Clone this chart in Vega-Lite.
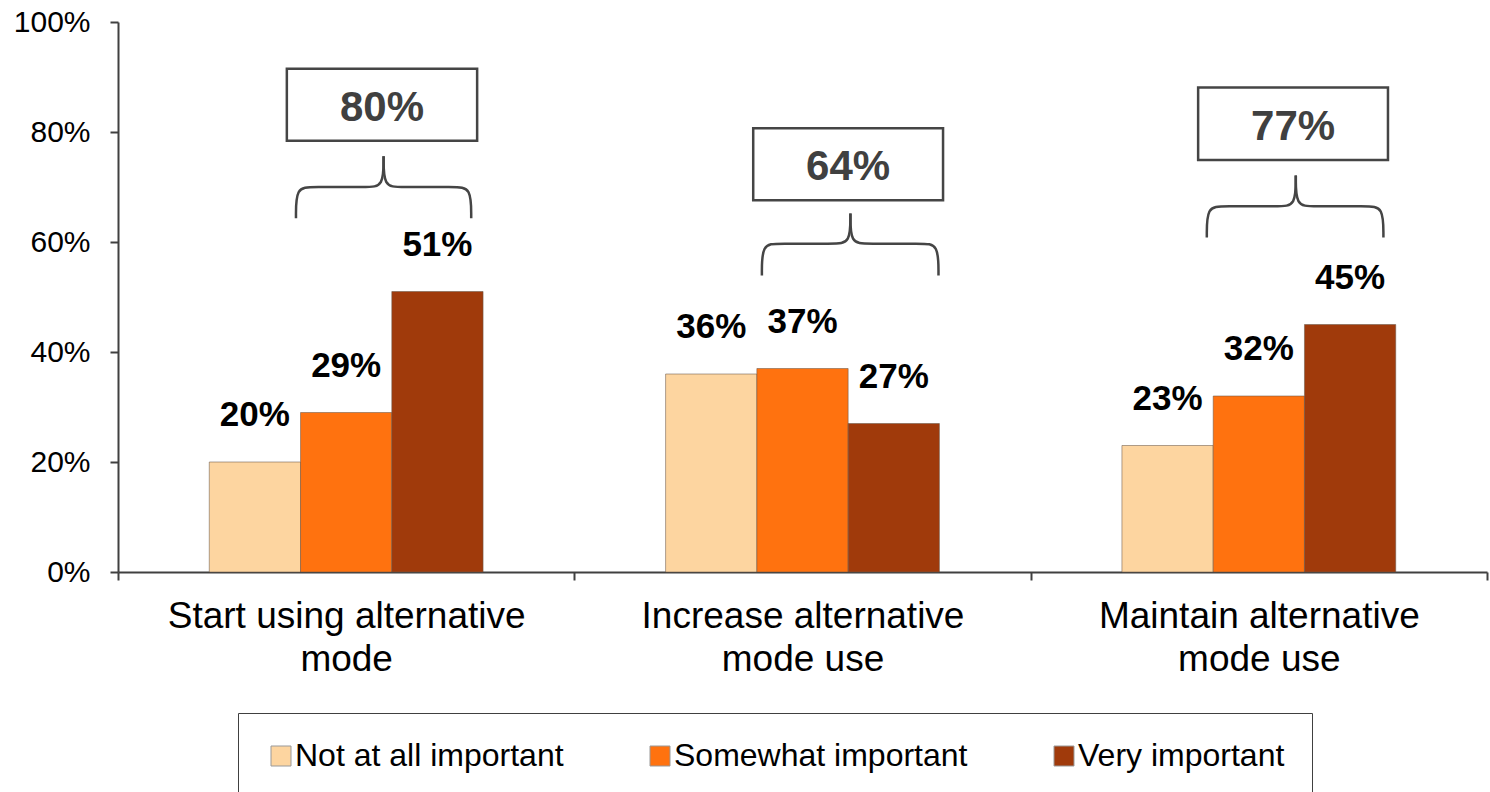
{
  "$schema": "https://vega.github.io/schema/vega-lite/v6.json",
  "width": 1369,
  "height": 550,
  "autosize": {"type": "none"},
  "padding": {"left": 118, "top": 22, "right": 3, "bottom": 220},
  "config": {
    "view": {"stroke": null},
    "font": "Liberation Sans",
    "axis": {
      "grid": false,
      "domainColor": "#404040",
      "domainWidth": 2,
      "tickColor": "#404040",
      "tickWidth": 2,
      "tickSize": 8,
      "labelColor": "#000000"
    }
  },
  "layer": [
    {
      "data": {
        "values": [
          {"goal": "Start using alternative mode", "importance": "Not at all important", "share": 0.20},
          {"goal": "Start using alternative mode", "importance": "Somewhat important", "share": 0.29},
          {"goal": "Start using alternative mode", "importance": "Very important", "share": 0.51},
          {"goal": "Increase alternative mode use", "importance": "Not at all important", "share": 0.36},
          {"goal": "Increase alternative mode use", "importance": "Somewhat important", "share": 0.37},
          {"goal": "Increase alternative mode use", "importance": "Very important", "share": 0.27},
          {"goal": "Maintain alternative mode use", "importance": "Not at all important", "share": 0.23},
          {"goal": "Maintain alternative mode use", "importance": "Somewhat important", "share": 0.32},
          {"goal": "Maintain alternative mode use", "importance": "Very important", "share": 0.45}
        ]
      },
      "encoding": {
        "x": {
          "field": "goal",
          "type": "nominal",
          "sort": null,
          "scale": {"paddingInner": 0, "paddingOuter": 0},
          "axis": {
            "title": null,
            "labelAngle": 0,
            "tickBand": "extent",
            "labelFontSize": 37,
            "labelLineHeight": 43,
            "labelPadding": 18,
            "labelLimit": 500,
            "labelExpr": "split(replace(datum.label, ' mode', '|mode'), '|')"
          }
        },
        "xOffset": {
          "field": "importance",
          "type": "nominal",
          "sort": ["Not at all important", "Somewhat important", "Very important"],
          "scale": {"paddingInner": 0, "paddingOuter": 1}
        },
        "y": {
          "field": "share",
          "type": "quantitative",
          "scale": {"domain": [0, 1], "nice": false},
          "axis": {
            "title": null,
            "values": [0, 0.2, 0.4, 0.6, 0.8, 1],
            "format": ".0%",
            "labelFontSize": 30,
            "labelPadding": 20
          }
        }
      },
      "layer": [
        {
          "mark": {"type": "bar", "stroke": "#6b5a4a", "strokeWidth": 1, "strokeOpacity": 0.55},
          "encoding": {
            "color": {
              "field": "importance",
              "type": "nominal",
              "scale": {
                "domain": ["Not at all important", "Somewhat important", "Very important"],
                "range": ["#FDD5A0", "#FF720F", "#A03A0B"]
              },
              "legend": {
                "orient": "none",
                "legendX": 120,
                "legendY": 691,
                "direction": "horizontal",
                "title": null,
                "symbolType": "square",
                "symbolSize": 400,
                "symbolStrokeColor": "#999999",
                "symbolStrokeWidth": 1,
                "labelFontSize": 32,
                "labelColor": "#000000",
                "labelOffset": -2,
                "labelLimit": 500,
                "columnPadding": 80,
                "padding": 27,
                "strokeColor": "#404040"
              }
            }
          }
        },
        {
          "mark": {"type": "text", "baseline": "alphabetic", "dy": -36, "fontSize": 35, "fontWeight": "bold", "color": "#000000"},
          "encoding": {
            "text": {"field": "share", "type": "quantitative", "format": ".0%"}
          }
        }
      ]
    },
    {
      "encoding": {
        "x": {"type": "quantitative", "axis": null, "scale": {"domain": [0, 3], "nice": false, "zero": false}},
        "y": {"type": "quantitative", "axis": null, "scale": {"domain": [0, 1], "nice": false}}
      },
      "layer": [
        {
          "data": {
            "values": [
              {"goal": "Start using alternative mode", "left": 0.370, "right": 0.787, "top": 0.915, "bottom": 0.784},
              {"goal": "Increase alternative mode use", "left": 1.392, "right": 1.808, "top": 0.807, "bottom": 0.676},
              {"goal": "Maintain alternative mode use", "left": 2.367, "right": 2.783, "top": 0.881, "bottom": 0.749}
            ]
          },
          "mark": {"type": "rect", "fill": "#ffffff", "stroke": "#454545", "strokeWidth": 2.5},
          "encoding": {
            "x": {"field": "left", "type": "quantitative"},
            "x2": {"field": "right"},
            "y": {"field": "top", "type": "quantitative"},
            "y2": {"field": "bottom"}
          }
        },
        {
          "data": {
            "values": [
              {"goal": "Start using alternative mode", "total": 0.80, "cx": 0.5785, "cy": 0.8495},
              {"goal": "Increase alternative mode use", "total": 0.64, "cx": 1.600, "cy": 0.7415},
              {"goal": "Maintain alternative mode use", "total": 0.77, "cx": 2.575, "cy": 0.815}
            ]
          },
          "mark": {"type": "text", "baseline": "middle", "dy": 3, "fontSize": 42, "fontWeight": "bold", "color": "#404040"},
          "encoding": {
            "x": {"field": "cx", "type": "quantitative"},
            "y": {"field": "cy", "type": "quantitative"},
            "text": {"field": "total", "type": "quantitative", "format": ".0%"}
          }
        },
        {
          "data": {
            "values": [
              {"part": "1L", "k": 0, "bx": 0.390, "by": 0.643},
              {"part": "1L", "k": 1, "bx": 0.390, "by": 0.700},
              {"part": "1L", "k": 2, "bx": 0.425, "by": 0.700},
              {"part": "1L", "k": 3, "bx": 0.547, "by": 0.700},
              {"part": "1L", "k": 4, "bx": 0.582, "by": 0.700},
              {"part": "1L", "k": 5, "bx": 0.582, "by": 0.756},
              {"part": "1R", "k": 0, "bx": 0.774, "by": 0.643},
              {"part": "1R", "k": 1, "bx": 0.774, "by": 0.700},
              {"part": "1R", "k": 2, "bx": 0.739, "by": 0.700},
              {"part": "1R", "k": 3, "bx": 0.617, "by": 0.700},
              {"part": "1R", "k": 4, "bx": 0.582, "by": 0.700},
              {"part": "1R", "k": 5, "bx": 0.582, "by": 0.756},
              {"part": "2L", "k": 0, "bx": 1.411, "by": 0.539},
              {"part": "2L", "k": 1, "bx": 1.411, "by": 0.597},
              {"part": "2L", "k": 2, "bx": 1.446, "by": 0.597},
              {"part": "2L", "k": 3, "bx": 1.570, "by": 0.597},
              {"part": "2L", "k": 4, "bx": 1.605, "by": 0.597},
              {"part": "2L", "k": 5, "bx": 1.605, "by": 0.652},
              {"part": "2R", "k": 0, "bx": 1.798, "by": 0.539},
              {"part": "2R", "k": 1, "bx": 1.798, "by": 0.597},
              {"part": "2R", "k": 2, "bx": 1.763, "by": 0.597},
              {"part": "2R", "k": 3, "bx": 1.640, "by": 0.597},
              {"part": "2R", "k": 4, "bx": 1.605, "by": 0.597},
              {"part": "2R", "k": 5, "bx": 1.605, "by": 0.652},
              {"part": "3L", "k": 0, "bx": 2.386, "by": 0.608},
              {"part": "3L", "k": 1, "bx": 2.386, "by": 0.665},
              {"part": "3L", "k": 2, "bx": 2.421, "by": 0.665},
              {"part": "3L", "k": 3, "bx": 2.546, "by": 0.665},
              {"part": "3L", "k": 4, "bx": 2.581, "by": 0.665},
              {"part": "3L", "k": 5, "bx": 2.581, "by": 0.721},
              {"part": "3R", "k": 0, "bx": 2.773, "by": 0.608},
              {"part": "3R", "k": 1, "bx": 2.773, "by": 0.665},
              {"part": "3R", "k": 2, "bx": 2.738, "by": 0.665},
              {"part": "3R", "k": 3, "bx": 2.616, "by": 0.665},
              {"part": "3R", "k": 4, "bx": 2.581, "by": 0.665},
              {"part": "3R", "k": 5, "bx": 2.581, "by": 0.721}
            ]
          },
          "mark": {"type": "line", "interpolate": "basis", "stroke": "#454545", "strokeWidth": 2.5},
          "encoding": {
            "x": {"field": "bx", "type": "quantitative"},
            "y": {"field": "by", "type": "quantitative"},
            "detail": {"field": "part", "type": "nominal"},
            "order": {"field": "k", "type": "quantitative"}
          }
        }
      ]
    }
  ],
  "resolve": {"scale": {"x": "independent"}, "axis": {"x": "independent", "y": "independent"}}
}
